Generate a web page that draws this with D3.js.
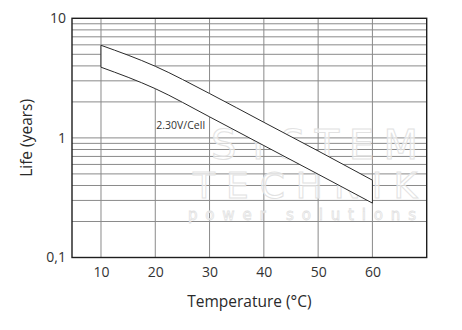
<!DOCTYPE html>
<html>
<head>
<meta charset="utf-8">
<script src="https://cdn.jsdelivr.net/npm/d3@7"></script>
<style>
  html, body { margin: 0; padding: 0; background: #fff; }
  svg { display: block; font-family: "Open Sans", "Noto Sans", sans-serif; }
</style>
</head>
<body>
<svg id="chart" width="462" height="330"></svg>
<script>
// Service life vs. temperature at 2.30 V/cell float voltage
const temperatures = [10, 20, 30, 40, 50, 60];
const lifeUpper = [5.95, 3.97, 2.35, 1.35, 0.778, 0.443];
const lifeLower = [3.90, 2.58, 1.50, 0.863, 0.497, 0.285];

const xTicks = [10, 20, 30, 40, 50, 60];
const yTicks = [0.1, 1, 10];
const yGrid = [0.2, 0.3, 0.4, 0.5, 0.6, 0.7, 0.8, 0.9, 1, 2, 3, 4, 5, 6, 7, 8, 9];

const curveLabel = "2.30V/Cell";
const curveLabelAt = [20.2, 1.18];
const xTitle = "Temperature (°C)";
const yTitle = "Life (years)";
const watermark = ["SYSTEM", "TECHNIK", "power solutions"];

const W = 462, H = 330;
const margin = { top: 18.3, right: 35.3, bottom: 72.5, left: 72 };
const iw = W - margin.left - margin.right;
const ih = H - margin.top - margin.bottom;

const svg = d3.select("#chart");
const g = svg.append("g").attr("transform", `translate(${margin.left},${margin.top})`);

const x = d3.scaleLinear().domain([4.66, 70]).range([0, iw]);
const y = d3.scaleLog().domain([0.1, 10]).range([ih, 0]);

// grid
g.append("g").selectAll("line").data(yGrid).join("line")
  .attr("x1", 0).attr("x2", iw)
  .attr("y1", d => y(d)).attr("y2", d => y(d))
  .attr("stroke", "#8a8a8a").attr("stroke-width", 1);
g.append("g").selectAll("line").data(xTicks).join("line")
  .attr("x1", d => x(d)).attr("x2", d => x(d))
  .attr("y1", 0).attr("y2", ih)
  .attr("stroke", "#8a8a8a").attr("stroke-width", 1);

// faint watermark lettering
const wm = g.append("g").attr("pointer-events", "none");
const wmStyle = sel => sel.attr("font-family", "DejaVu Sans").attr("lengthAdjust", "spacing")
  .attr("fill", "#fff").attr("fill-opacity", 0.6).attr("stroke", "#e2e2e2");
wm.append("text").text(watermark[0]).call(wmStyle)
  .attr("x", 139).attr("y", 141).attr("textLength", 207)
  .attr("font-size", 40).attr("stroke-width", 1);
wm.append("text").text(watermark[1]).call(wmStyle)
  .attr("x", 121).attr("y", 180).attr("textLength", 224)
  .attr("font-size", 36).attr("stroke-width", 1);
wm.append("text").text(watermark[2]).call(wmStyle)
  .attr("x", 116).attr("y", 202).attr("textLength", 228)
  .attr("font-size", 15).attr("stroke-width", 0.8);

// life band: upper curve, down at 60 °C, lower curve back, closed at 10 °C
const curve = d3.line().curve(d3.curveMonotoneX);
const upperPts = temperatures.map((t, i) => [x(t), y(lifeUpper[i])]);
const lowerPts = temperatures.map((t, i) => [x(t), y(lifeLower[i])]).reverse();
const lowerPath = curve(lowerPts).replace(/^M/, "L");
g.append("path")
  .attr("d", curve(upperPts) + lowerPath + "Z")
  .attr("fill", "#fff")
  .attr("stroke", "#2a2a2a").attr("stroke-width", 1)
  .attr("stroke-linejoin", "round");

g.append("text").text(curveLabel)
  .attr("x", x(curveLabelAt[0])).attr("y", y(curveLabelAt[1]))
  .attr("font-size", 10.5).attr("fill", "#333");

// frame
g.append("rect").attr("x", 0).attr("y", 0).attr("width", iw).attr("height", ih)
  .attr("fill", "none").attr("stroke", "#1e1e1e").attr("stroke-width", 1.4);

// axes
const xAxis = g.append("g").attr("transform", `translate(0,${ih})`)
  .call(d3.axisBottom(x).tickValues(xTicks).tickSize(0).tickPadding(10).tickFormat(d3.format("d")));
xAxis.select(".domain").remove();
xAxis.selectAll("text").attr("font-size", 14).attr("fill", "#333").attr("font-family", "Open Sans");

const yAxis = g.append("g")
  .call(d3.axisLeft(y).tickValues(yTicks).tickSize(0).tickPadding(6)
    .tickFormat(d => String(d).replace(".", ",")));
yAxis.select(".domain").remove();
yAxis.selectAll("text").attr("font-size", 14).attr("fill", "#333").attr("font-family", "Open Sans");

// axis titles
svg.append("text").text(xTitle)
  .attr("x", margin.left + iw / 2).attr("y", 307)
  .attr("text-anchor", "middle").attr("font-size", 15.5).attr("fill", "#2a2a2a");
svg.append("text").text(yTitle)
  .attr("transform", `translate(32,${margin.top + ih / 2}) rotate(-90)`)
  .attr("text-anchor", "middle").attr("font-size", 15.5).attr("fill", "#2a2a2a");
</script>
</body>
</html>
